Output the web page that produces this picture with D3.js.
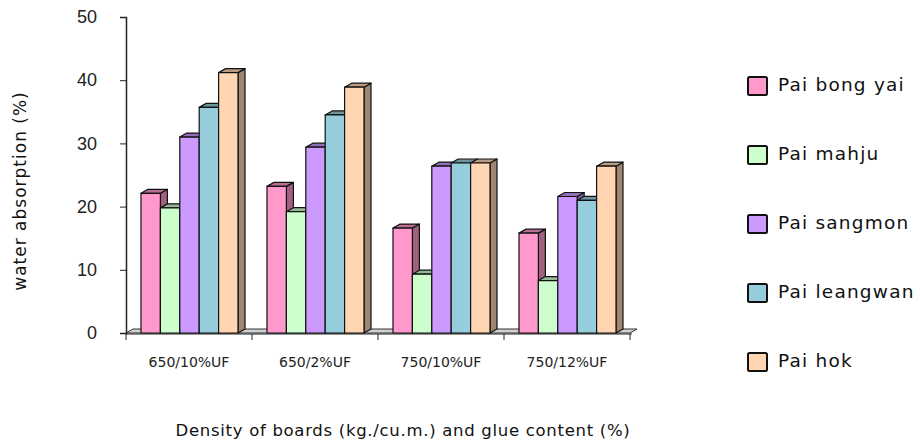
<!DOCTYPE html>
<html>
<head>
<meta charset="utf-8">
<style>
  body { margin: 0; background: #fff; }
  text { font-family: "DejaVu Sans", sans-serif; }
</style>
</head>
<body>
<div id="chart"></div>
<script src="https://cdn.jsdelivr.net/npm/d3@7"></script>
<script>
// data
var categories = ["650/10%UF", "650/2%UF", "750/10%UF", "750/12%UF"];
var seriesNames = ["Pai bong yai", "Pai mahju", "Pai sangmon", "Pai leangwan", "Pai hok"];
var paiBongYai  = [22.1, 23.2, 16.6, 15.8];
var paiMahju    = [19.8, 19.2, 9.3, 8.3];
var paiSangmon  = [31.0, 29.4, 26.4, 21.6];
var paiLeangwan = [35.7, 34.5, 26.9, 21.0];
var paiHok      = [41.2, 38.9, 26.9, 26.4];
var yTicks = [0, 10, 20, 30, 40, 50];

var allSeries = [paiBongYai, paiMahju, paiSangmon, paiLeangwan, paiHok];
var colors = ["#ff99cc", "#ccffcc", "#cc99ff", "#96cddd", "#ffd5b2"];

var width = 920, height = 446;
var plot = {left: 126, right: 630, top: 17, bottom: 333};
var depth = {dx: 7, dy: -4};

var svg = d3.select("#chart").append("svg")
  .attr("width", width).attr("height", height);

var x0 = d3.scaleBand().domain(categories).range([plot.left, plot.right]).paddingInner(0).paddingOuter(0);
var x1 = d3.scaleBand().domain(d3.range(seriesNames.length))
  .range([15, 15 + 97]);
var y = d3.scaleLinear().domain([0, 50]).range([plot.bottom, plot.top]);

// floor slab
var fx0 = plot.left, fx1 = plot.right, fy = y(0);
svg.append("path")
  .attr("d", "M" + fx0 + "," + fy + "L" + fx1 + "," + fy +
    "L" + (fx1 + depth.dx) + "," + (fy + depth.dy) +
    "L" + (fx0 + depth.dx) + "," + (fy + depth.dy) + "Z")
  .attr("fill", "#d0d0d0").attr("stroke", "#333").attr("stroke-width", 1);

// y axis
var yAxis = d3.axisLeft(y).tickValues(yTicks).tickSize(6).tickPadding(23);
var gy = svg.append("g").attr("transform", "translate(" + plot.left + ",0)").call(yAxis);
gy.select(".domain").attr("stroke", "#222").attr("stroke-width", 1.5);
gy.selectAll(".tick line").attr("stroke", "#222");
gy.selectAll("text").style("font-size", "18px").attr("fill", "#222")
  .style("font-family", "'Liberation Sans', Arial, sans-serif");

// x axis line + category ticks
svg.append("line")
  .attr("x1", plot.left).attr("x2", plot.right + 2)
  .attr("y1", plot.bottom + 1).attr("y2", plot.bottom + 1)
  .attr("stroke", "#222").attr("stroke-width", 1);
var tickXs = categories.map(function (c) { return x0(c); }).concat([plot.right]);
svg.selectAll(".xtick").data(tickXs).enter().append("line")
  .attr("x1", function (d) { return d; }).attr("x2", function (d) { return d; })
  .attr("y1", plot.bottom + 1).attr("y2", plot.bottom + 7)
  .attr("stroke", "#222");
svg.selectAll(".xlab").data(categories).enter().append("text")
  .attr("x", function (d) { return x0(d) + x0.bandwidth() / 2; })
  .attr("y", 367)
  .attr("text-anchor", "middle")
  .style("font-size", "14px").attr("fill", "#222")
  .text(function (d) { return d; });

// 3D bars, drawn left to right so each bar hides the previous side face
function shade(c, k) { return d3.color(c).darker(k).formatHex(); }
categories.forEach(function (cat, ci) {
  allSeries.forEach(function (vals, si) {
    var bx = x0(cat) + x1(si), bw = x1.bandwidth();
    var top = y(vals[ci]), bot = y(0);
    var g = svg.append("g").attr("stroke", "#111").attr("stroke-width", 1.2)
      .attr("stroke-linejoin", "round");
    // side face
    g.append("path")
      .attr("d", "M" + (bx + bw) + "," + bot + "L" + (bx + bw + depth.dx) + "," + (bot + depth.dy) +
        "L" + (bx + bw + depth.dx) + "," + (top + depth.dy) + "L" + (bx + bw) + "," + top + "Z")
      .attr("fill", shade(colors[si], 1.3));
    // top face
    g.append("path")
      .attr("d", "M" + bx + "," + top + "L" + (bx + bw) + "," + top +
        "L" + (bx + bw + depth.dx) + "," + (top + depth.dy) + "L" + (bx + depth.dx) + "," + (top + depth.dy) + "Z")
      .attr("fill", shade(colors[si], 0.9));
    // front face
    g.append("rect")
      .attr("x", bx).attr("y", top).attr("width", bw).attr("height", bot - top)
      .attr("fill", colors[si]);
  });
});

// legend
var leg = svg.selectAll(".leg").data(seriesNames).enter().append("g")
  .attr("transform", function (d, i) { return "translate(748," + (77 + i * 69) + ")"; });
leg.append("rect").attr("width", 19).attr("height", 18).attr("rx", 1.5)
  .attr("fill", function (d, i) { return colors[i]; })
  .attr("stroke", "#111").attr("stroke-width", 2);
leg.append("text").attr("x", 30).attr("y", 14)
  .style("font-size", "18.5px").style("letter-spacing", "1.2px").attr("fill", "#111")
  .text(function (d) { return d; });

// axis titles
svg.append("text")
  .attr("transform", "translate(26,191) rotate(-90)")
  .attr("text-anchor", "middle")
  .style("font-size", "17px").style("letter-spacing", "1px").attr("fill", "#111")
  .text("water absorption (%)");
svg.append("text")
  .attr("x", 403).attr("y", 436)
  .attr("text-anchor", "middle")
  .style("font-size", "16.5px").style("letter-spacing", "0.7px").attr("fill", "#111")
  .text("Density of boards (kg./cu.m.) and glue content (%)");
</script>
</body>
</html>
